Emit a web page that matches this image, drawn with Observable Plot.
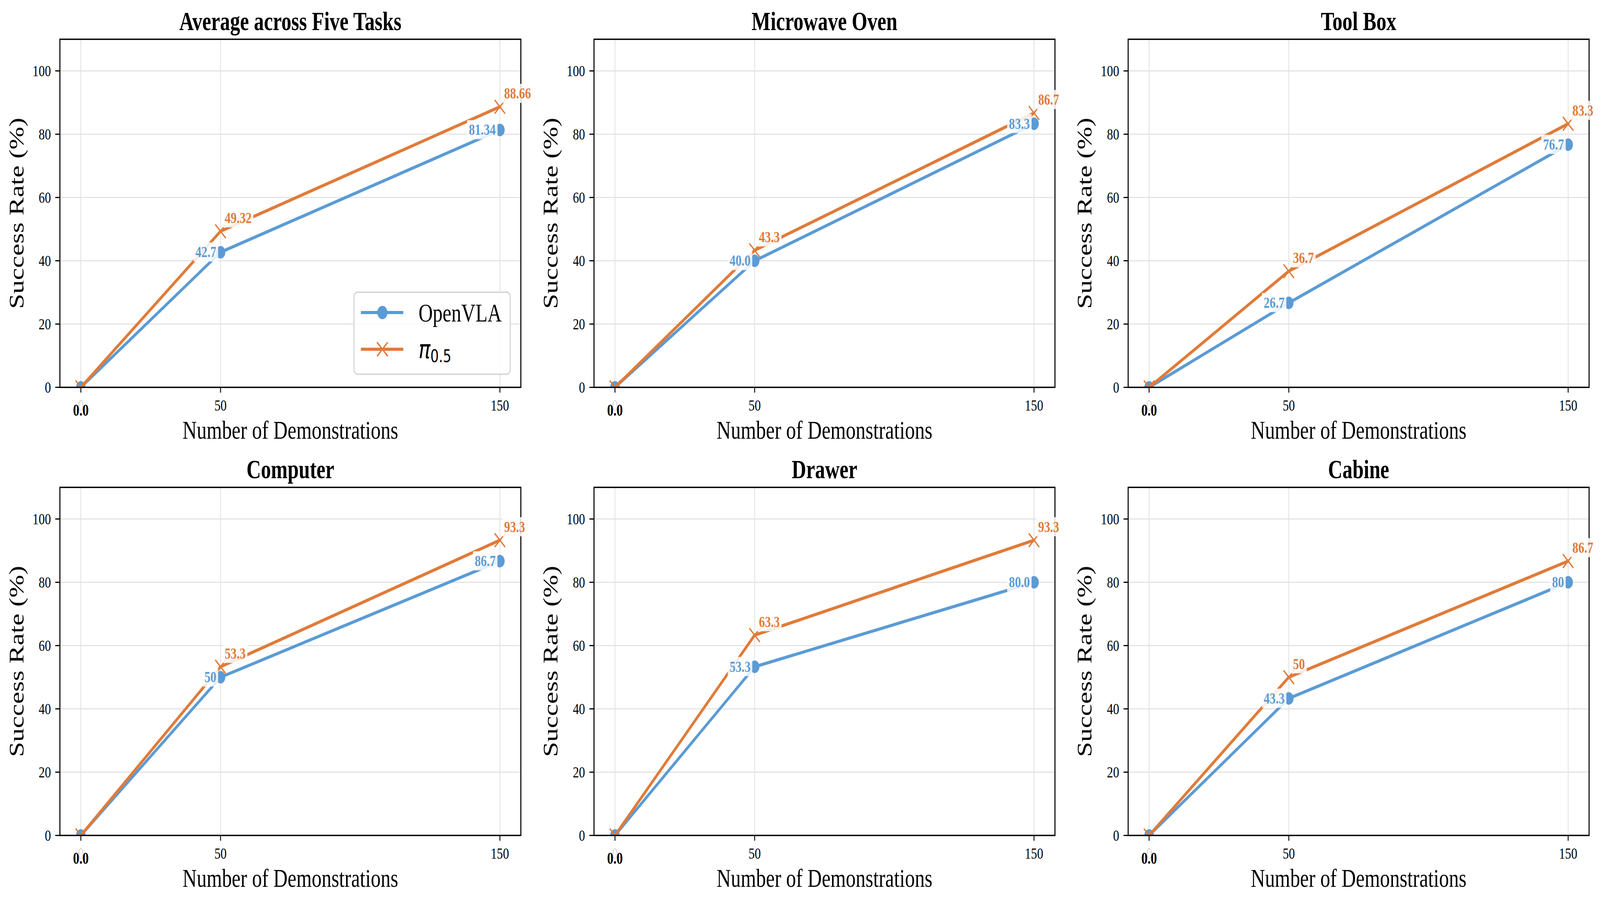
<!DOCTYPE html>
<html><head><meta charset="utf-8">
<script src="https://cdn.jsdelivr.net/npm/d3@7"></script>
<script src="https://cdn.jsdelivr.net/npm/@observablehq/plot@0.6"></script>
<style>
html,body{margin:0;padding:0;background:#fff;overflow:hidden;}
#outer{position:relative;overflow:hidden;background:#fff;}
#wrap{position:absolute;left:0;top:0;width:5356px;height:2314px;background:#fff;transform-origin:0 0;}
#wrap > svg{position:absolute;max-width:none !important;}
</style></head><body><div id="outer"><div id="wrap"></div></div>
<script>
const titles = ["Average across Five Tasks", "Microwave Oven", "Tool Box", "Computer", "Drawer", "Cabine"];
const demos = [0, 50, 150];
const openvla = [[0, 42.7, 81.34], [0, 40.0, 83.3], [0, 26.7, 76.7], [0, 50, 86.7], [0, 53.3, 80.0], [0, 43.3, 80]];
const pi05 = [[0, 49.32, 88.66], [0, 43.3, 86.7], [0, 36.7, 83.3], [0, 53.3, 93.3], [0, 63.3, 93.3], [0, 50, 86.7]];
const openvlaLabels = [["", "42.7", "81.34"], ["", "40.0", "83.3"], ["", "26.7", "76.7"], ["", "50", "86.7"], ["", "53.3", "80.0"], ["", "43.3", "80"]];
const pi05Labels = [["", "49.32", "88.66"], ["", "43.3", "86.7"], ["", "36.7", "83.3"], ["", "53.3", "93.3"], ["", "63.3", "93.3"], ["", "50", "86.7"]];
const xTicks = [0, 50, 150];
const yTicks = [0, 20, 40, 60, 80, 100];
const zeroLabel = ["0.0"];
const seriesNames = ["OpenVLA", "π0.5"];
const xLabel = "Number of Demonstrations";
const yLabel = "Success Rate (%)";

const BLUE = "#5B9BD5", ORANGE = "#E07B39";
const SERIF = "'Liberation Serif', 'Times New Roman', serif";
const W = 5356, H = 2314;
const outer = document.getElementById("outer");
const wrap = document.getElementById("wrap");
const vw = window.innerWidth || W, vh = window.innerHeight || H;
const sx = vw / W, sy = vh / H;
wrap.style.transform = `scale(${sx}, ${sy})`;
outer.style.width = vw + "px";
outer.style.height = vh + "px";

titles.forEach((title, p) => {
  const col = p % 3, row = Math.floor(p / 3);
  const last = col === 2;
  const A = demos.map((d, i) => ({x: d, y: openvla[p][i], t: openvlaLabels[p][i]}));
  const B = demos.map((d, i) => ({x: d, y: pi05[p][i], t: pi05Labels[p][i]}));
  const svg = Plot.plot({
    width: last ? 1780 : 1788,
    height: 1147,
    marginLeft: 200, marginRight: last ? 37 : 45, marginTop: 100, marginBottom: 156,
    x: {domain: [-7.5, 157.5]},
    y: {domain: [0, 110]},
    style: {fontFamily: SERIF, background: "white", color: "black", overflow: "visible"},
    marks: [
      Plot.gridX({ticks: xTicks, stroke: "#e4e4e4", strokeOpacity: 1, strokeWidth: 3}),
      Plot.gridY({ticks: yTicks, stroke: "#e4e4e4", strokeOpacity: 1, strokeWidth: 3}),
      Plot.line(A, {x: "x", y: "y", stroke: BLUE, strokeWidth: 8, clip: true}),
      Plot.dot(A, {x: "x", y: "y", r: 16, fill: BLUE, stroke: "none", clip: true}),
      Plot.line(B, {x: "x", y: "y", stroke: ORANGE, strokeWidth: 8, clip: true}),
      Plot.dot(B, {x: "x", y: "y", r: 16, symbol: "times", stroke: ORANGE, strokeWidth: 4, clip: true}),
      Plot.frame({stroke: "black", strokeWidth: 3.5}),
      Plot.axisX({ticks: xTicks, tickSize: 14, tickPadding: 16, fontSize: 41, strokeWidth: 3, tickFormat: d => String(d), label: null}),
      Plot.axisY({ticks: yTicks, tickSize: 15, tickPadding: 15, fontSize: 41, strokeWidth: 3, tickFormat: d => String(d), label: null}),
      Plot.text(zeroLabel, {x: () => 0, frameAnchor: "bottom", dy: 43, lineAnchor: "top", textAnchor: "middle", text: d => d, fontSize: 42, fontWeight: "bold", fill: "black", className: "bb"}),
      Plot.text(A.filter(d => d.t), {x: "x", y: "y", text: "t", textAnchor: "end", lineAnchor: "middle", dx: -14, fontSize: 40, fontWeight: "bold", fill: BLUE, className: "bb"}),
      Plot.text(B.filter(d => d.t), {x: "x", y: "y", text: "t", textAnchor: "start", lineAnchor: "bottom", dx: 14, dy: -21, fontSize: 40, fontWeight: "bold", fill: ORANGE, className: "bb"}),
      Plot.text([title], {frameAnchor: "top", dy: -45, lineAnchor: "middle", textAnchor: "middle", text: d => d, fontSize: 67, fontWeight: "bold", fill: "black"}),
      Plot.text([xLabel], {frameAnchor: "bottom", dy: 110, lineAnchor: "middle", textAnchor: "middle", text: d => d, fontSize: 66, fill: "black"}),
      Plot.text([yLabel], {frameAnchor: "left", dx: -145, rotate: -90, lineAnchor: "middle", textAnchor: "middle", text: d => d, fontSize: 70, fill: "black"})
    ]
  });
  svg.style.left = (col * 1788) + "px";
  svg.style.top = (row * 1147) + "px";
  wrap.appendChild(svg);

  if (p === 0) {
    const g = d3.select(svg).append("g").attr("class", "legend").attr("text-anchor", "start");
    g.append("rect").attr("x", 1185).attr("y", 748).attr("width", 523).attr("height", 210)
      .attr("rx", 12).attr("fill", "white").attr("fill-opacity", 0.8)
      .attr("stroke", "#d4d4d4").attr("stroke-width", 3.5);
    const colors = [BLUE, ORANGE];
    const ys = [800, 894];
    seriesNames.forEach((name, i) => {
      g.append("line").attr("x1", 1208).attr("x2", 1350).attr("y1", ys[i]).attr("y2", ys[i])
        .attr("stroke", colors[i]).attr("stroke-width", 8);
      if (i === 0) {
        g.append("circle").attr("cx", 1280).attr("cy", ys[i]).attr("r", 17).attr("fill", colors[i]);
        g.append("text").attr("x", 1401).attr("y", 823).attr("font-size", 66).attr("text-anchor", "start")
          .attr("font-family", SERIF).attr("fill", "black").text(name);
      } else {
        const sz = 18;
        g.append("path").attr("d", `M${1280 - sz},${ys[i] - sz}L${1280 + sz},${ys[i] + sz}M${1280 - sz},${ys[i] + sz}L${1280 + sz},${ys[i] - sz}`)
          .attr("stroke", colors[i]).attr("stroke-width", 4).attr("fill", "none");
        const t = g.append("text").attr("x", 1401).attr("y", 917).attr("fill", "black").attr("text-anchor", "start")
          .attr("font-family", "'DejaVu Sans', sans-serif");
        t.append("tspan").attr("font-size", 66).attr("font-style", "italic").text(name.slice(0, 1));
        t.append("tspan").attr("font-size", 44).attr("dy", 10).text(name.slice(1));
      }
    });
  }
});

// white semi-transparent boxes behind annotation texts (like matplotlib bbox)
document.querySelectorAll("g.bb text").forEach(t => {
  const b = t.getBBox();
  const pad = 6;
  const r = document.createElementNS("http://www.w3.org/2000/svg", "rect");
  r.setAttribute("x", b.x - pad);
  r.setAttribute("y", b.y - pad + 4);
  r.setAttribute("width", b.width + 2 * pad);
  r.setAttribute("height", b.height + 2 * pad - 8);
  r.setAttribute("fill", "white");
  r.setAttribute("fill-opacity", 0.85);
  r.setAttribute("stroke", "none");
  if (t.getAttribute("transform")) r.setAttribute("transform", t.getAttribute("transform"));
  t.parentNode.insertBefore(r, t);
});
</script></body></html>
